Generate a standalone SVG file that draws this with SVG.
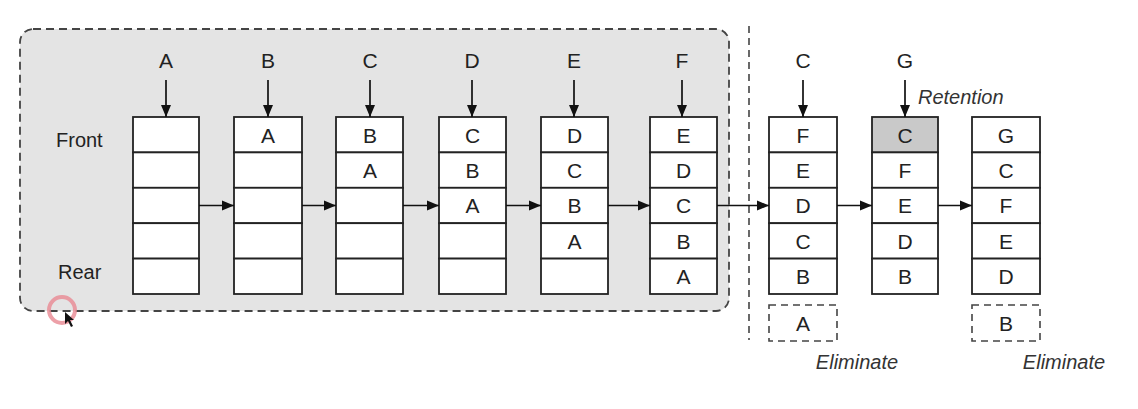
<svg xmlns="http://www.w3.org/2000/svg" width="1138" height="409" viewBox="0 0 1138 409">
<defs>
<marker id="ah" viewBox="0 0 12 10" refX="12" refY="5" markerWidth="12" markerHeight="11" markerUnits="userSpaceOnUse" orient="auto">
<path d="M0,0 L12,5 L0,10 Z" fill="#111"/>
</marker>
</defs>
<style>
.cell{fill:#fff;stroke:#222;stroke-width:1.8}
.sh{fill:#c9c9c9;stroke:#222;stroke-width:1.8}
.t{font-family:"Liberation Sans",Arial,sans-serif;font-size:21px;fill:#222;text-anchor:middle}
.lbl{font-family:"Liberation Sans",Arial,sans-serif;font-size:20px;fill:#222}
.it{font-family:"Liberation Sans",Arial,sans-serif;font-size:20px;font-style:italic;fill:#333}
.arr{stroke:#111;stroke-width:1.7;fill:none;marker-end:url(#ah)}
.dash{fill:none;stroke:#444;stroke-width:1.6;stroke-dasharray:7,5}
</style>
<rect width="1138" height="409" fill="#fff"/>
<rect x="20" y="29" width="709" height="282" rx="13" fill="#e4e4e4" stroke="#444" stroke-width="1.8" stroke-dasharray="8,5"/>
<line x1="749" y1="26" x2="749" y2="340" class="dash"/>
<text class="lbl" x="56" y="147">Front</text>
<text class="lbl" x="58" y="279">Rear</text>

<g id="q1">
<text class="t" x="166" y="68">A</text>
<rect class="cell" x="133" y="117" width="66" height="35.4"/><rect class="cell" x="133" y="152.4" width="66" height="35.4"/><rect class="cell" x="133" y="187.8" width="66" height="35.4"/><rect class="cell" x="133" y="223.2" width="66" height="35.4"/><rect class="cell" x="133" y="258.6" width="66" height="35.4"/>
</g>
<g id="q2">
<text class="t" x="268" y="68">B</text>
<rect class="cell" x="234" y="117" width="68" height="35.4"/><rect class="cell" x="234" y="152.4" width="68" height="35.4"/><rect class="cell" x="234" y="187.8" width="68" height="35.4"/><rect class="cell" x="234" y="223.2" width="68" height="35.4"/><rect class="cell" x="234" y="258.6" width="68" height="35.4"/>
<text class="t" x="268" y="142.5">A</text>
</g>
<g id="q3">
<text class="t" x="370" y="68">C</text>
<rect class="cell" x="336" y="117" width="67" height="35.4"/><rect class="cell" x="336" y="152.4" width="67" height="35.4"/><rect class="cell" x="336" y="187.8" width="67" height="35.4"/><rect class="cell" x="336" y="223.2" width="67" height="35.4"/><rect class="cell" x="336" y="258.6" width="67" height="35.4"/>
<text class="t" x="370" y="142.5">B</text><text class="t" x="370" y="178">A</text>
</g>
<g id="q4">
<text class="t" x="472" y="68">D</text>
<rect class="cell" x="439" y="117" width="67" height="35.4"/><rect class="cell" x="439" y="152.4" width="67" height="35.4"/><rect class="cell" x="439" y="187.8" width="67" height="35.4"/><rect class="cell" x="439" y="223.2" width="67" height="35.4"/><rect class="cell" x="439" y="258.6" width="67" height="35.4"/>
<text class="t" x="472.5" y="142.5">C</text><text class="t" x="472.5" y="178">B</text><text class="t" x="472.5" y="213.4">A</text>
</g>
<g id="q5">
<text class="t" x="574" y="68">E</text>
<rect class="cell" x="541" y="117" width="67" height="35.4"/><rect class="cell" x="541" y="152.4" width="67" height="35.4"/><rect class="cell" x="541" y="187.8" width="67" height="35.4"/><rect class="cell" x="541" y="223.2" width="67" height="35.4"/><rect class="cell" x="541" y="258.6" width="67" height="35.4"/>
<text class="t" x="574.5" y="142.5">D</text><text class="t" x="574.5" y="178">C</text><text class="t" x="574.5" y="213.4">B</text><text class="t" x="574.5" y="248.8">A</text>
</g>
<g id="q6">
<text class="t" x="682" y="68">F</text>
<rect class="cell" x="650" y="117" width="67" height="35.4"/><rect class="cell" x="650" y="152.4" width="67" height="35.4"/><rect class="cell" x="650" y="187.8" width="67" height="35.4"/><rect class="cell" x="650" y="223.2" width="67" height="35.4"/><rect class="cell" x="650" y="258.6" width="67" height="35.4"/>
<text class="t" x="683.5" y="142.5">E</text><text class="t" x="683.5" y="178">D</text><text class="t" x="683.5" y="213.4">C</text><text class="t" x="683.5" y="248.8">B</text><text class="t" x="683.5" y="284.2">A</text>
</g>
<g id="q7">
<text class="t" x="803" y="68">C</text>
<rect class="cell" x="769" y="117" width="68" height="35.4"/><rect class="cell" x="769" y="152.4" width="68" height="35.4"/><rect class="cell" x="769" y="187.8" width="68" height="35.4"/><rect class="cell" x="769" y="223.2" width="68" height="35.4"/><rect class="cell" x="769" y="258.6" width="68" height="35.4"/>
<text class="t" x="803" y="142.5">F</text><text class="t" x="803" y="178">E</text><text class="t" x="803" y="213.4">D</text><text class="t" x="803" y="248.8">C</text><text class="t" x="803" y="284.2">B</text>
</g>
<g id="elimA">
<rect x="769" y="305" width="68" height="36" class="dash"/>
<text class="t" x="803" y="330.5">A</text>
<text class="it" x="857" y="369" text-anchor="middle">Eliminate</text>
</g>
<g id="q8">
<text class="t" x="905" y="68">G</text>
<text class="it" x="918" y="104">Retention</text>
<rect class="sh" x="872" y="117" width="66" height="35.4"/><rect class="cell" x="872" y="152.4" width="66" height="35.4"/><rect class="cell" x="872" y="187.8" width="66" height="35.4"/><rect class="cell" x="872" y="223.2" width="66" height="35.4"/><rect class="cell" x="872" y="258.6" width="66" height="35.4"/>
<text class="t" x="905" y="142.5">C</text><text class="t" x="905" y="178">F</text><text class="t" x="905" y="213.4">E</text><text class="t" x="905" y="248.8">D</text><text class="t" x="905" y="284.2">B</text>
</g>
<g id="q9">
<rect class="cell" x="972" y="117" width="68" height="35.4"/><rect class="cell" x="972" y="152.4" width="68" height="35.4"/><rect class="cell" x="972" y="187.8" width="68" height="35.4"/><rect class="cell" x="972" y="223.2" width="68" height="35.4"/><rect class="cell" x="972" y="258.6" width="68" height="35.4"/>
<text class="t" x="1006" y="142.5">G</text><text class="t" x="1006" y="178">C</text><text class="t" x="1006" y="213.4">F</text><text class="t" x="1006" y="248.8">E</text><text class="t" x="1006" y="284.2">D</text>
</g>
<g id="elimB">
<rect x="972" y="305" width="68" height="36" class="dash"/>
<text class="t" x="1006" y="330.5">B</text>
<text class="it" x="1064" y="369" text-anchor="middle">Eliminate</text>
</g>

<g id="connectors">
<line class="arr" x1="166" y1="80" x2="166" y2="117"/>
<line class="arr" x1="268" y1="80" x2="268" y2="117"/>
<line class="arr" x1="370" y1="80" x2="370" y2="117"/>
<line class="arr" x1="472" y1="80" x2="472" y2="117"/>
<line class="arr" x1="574" y1="80" x2="574" y2="117"/>
<line class="arr" x1="682" y1="80" x2="682" y2="117"/>
<line class="arr" x1="803" y1="80" x2="803" y2="117"/>
<line class="arr" x1="905" y1="80" x2="905" y2="117"/>
<line class="arr" x1="199" y1="205.5" x2="234" y2="205.5"/>
<line class="arr" x1="302" y1="205.5" x2="336" y2="205.5"/>
<line class="arr" x1="403" y1="205.5" x2="439" y2="205.5"/>
<line class="arr" x1="506" y1="205.5" x2="541" y2="205.5"/>
<line class="arr" x1="608" y1="205.5" x2="650" y2="205.5"/>
<line class="arr" x1="717" y1="205.5" x2="769" y2="205.5"/>
<line class="arr" x1="837" y1="205.5" x2="872" y2="205.5"/>
<line class="arr" x1="938" y1="205.5" x2="972" y2="205.5"/>
</g>
<g id="cursor">
<circle cx="62" cy="310" r="13" fill="none" stroke="#e88892" stroke-width="4" opacity="0.8"/>
<path d="M65,312 L65,324 L68,321 L71,327 L73,326 L70,320 L74,320 Z" fill="#111"/>
</g>
</svg>
